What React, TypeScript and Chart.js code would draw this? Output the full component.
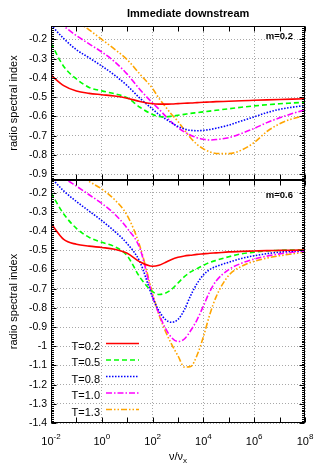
import React, { useEffect, useRef } from "react";
import { Chart, registerables } from "chart.js";

Chart.register(...registerables);

const FAMILY = "'Liberation Sans', Arial, Helvetica, sans-serif";
Chart.defaults.font.family = FAMILY;
Chart.defaults.color = "#000";

// ---------- data ----------
// log10(nu / nu_x)
const logNu = [-2, -1.5, -1, -0.5, 0, 0.5, 1, 1.5, 2, 2.25, 2.5, 2.75, 3, 3.25, 3.5, 3.75, 4, 4.25, 4.5, 5, 5.5, 6, 6.5, 7, 7.5, 8];

const seriesNames = ["T=0.2", "T=0.5", "T=0.8", "T=1.0", "T=1.3"];

// top panel, m=0.2
const topT02 = [-0.385, -0.44, -0.468, -0.48, -0.487, -0.494, -0.505, -0.522, -0.534, -0.536, -0.536, -0.535, -0.533, -0.531, -0.53, -0.528, -0.526, -0.525, -0.523, -0.521, -0.518, -0.516, -0.514, -0.512, -0.51, -0.508];
const topT05 = [-0.22, -0.34, -0.405, -0.449, -0.467, -0.482, -0.503, -0.552, -0.59, -0.6, -0.602, -0.599, -0.594, -0.589, -0.584, -0.58, -0.576, -0.572, -0.568, -0.56, -0.552, -0.545, -0.539, -0.534, -0.53, -0.526];
const topT08 = [-0.125, -0.195, -0.253, -0.295, -0.338, -0.385, -0.44, -0.505, -0.562, -0.59, -0.612, -0.633, -0.652, -0.665, -0.672, -0.674, -0.672, -0.668, -0.661, -0.645, -0.623, -0.602, -0.58, -0.563, -0.552, -0.543];
const topT10 = [-0.07, -0.13, -0.18, -0.223, -0.265, -0.315, -0.38, -0.46, -0.53, -0.562, -0.597, -0.63, -0.658, -0.68, -0.697, -0.71, -0.718, -0.722, -0.72, -0.71, -0.688, -0.662, -0.632, -0.607, -0.585, -0.566];
const topT13 = [0.0, -0.06, -0.105, -0.15, -0.2, -0.25, -0.305, -0.38, -0.455, -0.505, -0.548, -0.59, -0.626, -0.67, -0.712, -0.745, -0.768, -0.784, -0.792, -0.793, -0.775, -0.735, -0.678, -0.638, -0.612, -0.596];

// bottom panel, m=0.6
const botT02 = [-0.36, -0.443, -0.468, -0.478, -0.485, -0.494, -0.515, -0.56, -0.583, -0.578, -0.563, -0.547, -0.536, -0.529, -0.525, -0.521, -0.518, -0.515, -0.513, -0.508, -0.505, -0.503, -0.501, -0.5, -0.499, -0.498];
const botT05 = [-0.2, -0.31, -0.385, -0.432, -0.458, -0.48, -0.528, -0.64, -0.715, -0.73, -0.723, -0.703, -0.67, -0.637, -0.612, -0.595, -0.578, -0.563, -0.552, -0.533, -0.518, -0.509, -0.503, -0.5, -0.498, -0.497];
const botT08 = [-0.12, -0.19, -0.245, -0.295, -0.345, -0.4, -0.465, -0.56, -0.745, -0.815, -0.86, -0.875, -0.86, -0.81, -0.735, -0.673, -0.628, -0.6, -0.584, -0.562, -0.542, -0.528, -0.517, -0.509, -0.504, -0.5];
const botT10 = [-0.06, -0.12, -0.165, -0.21, -0.255, -0.31, -0.385, -0.49, -0.74, -0.83, -0.905, -0.955, -0.975, -0.962, -0.918, -0.862, -0.79, -0.715, -0.66, -0.6, -0.567, -0.545, -0.53, -0.518, -0.51, -0.504];
const botT13 = [0.05, -0.03, -0.09, -0.14, -0.18, -0.235, -0.318, -0.478, -0.725, -0.835, -0.92, -0.99, -1.05, -1.108, -1.105, -1.047, -0.95, -0.835, -0.742, -0.63, -0.583, -0.557, -0.54, -0.528, -0.518, -0.509];

// axes
const xTickExps = [-2, 0, 2, 4, 6, 8];
const yTicksTop = [-0.2, -0.3, -0.4, -0.5, -0.6, -0.7, -0.8, -0.9];
const yTicksBottom = [-0.2, -0.3, -0.4, -0.5, -0.6, -0.7, -0.8, -0.9, -1, -1.1, -1.2, -1.3, -1.4];
const topRange = { min: -0.93, max: -0.13 };
const bottomRange = { min: -1.4, max: -0.133 };

// ---------- styles ----------
const lineStyles = [
  { color: "#ff0000", dash: [] as number[] },
  { color: "#00ff00", dash: [5, 3] },
  { color: "#0000ff", dash: [1.5, 1.5] },
  { color: "#ff00ff", dash: [6, 2, 1.5, 2] },
  { color: "#ffa500", dash: [6, 2, 1.5, 2, 1.5, 2] },
];

function makeDatasets(series: number[][]) {
  return series.map((vals, i) => ({
    label: seriesNames[i],
    data: logNu.map((x, j) => ({ x, y: vals[j] })),
    borderColor: lineStyles[i].color,
    backgroundColor: lineStyles[i].color,
    borderDash: lineStyles[i].dash,
    borderWidth: 1.6,
    pointRadius: 0,
    fill: false,
    cubicInterpolationMode: "monotone" as const,
    clip: 0,
  }));
}

// frame + inward gnuplot-like tick marks
const framePlugin = {
  id: "frameTicks",
  afterDatasetsDraw(chart: any) {
    const { ctx, chartArea: ca, scales } = chart;
    const xs = scales.x;
    const ys = scales.y;
    const L = Math.round(ca.left) + 0.5;
    const R = Math.round(ca.right) - 0.5;
    const T = Math.round(ca.top) + 0.5;
    const B = Math.round(ca.bottom) - 0.5;
    ctx.save();
    ctx.setLineDash([]);
    ctx.strokeStyle = "#000";
    ctx.lineWidth = 1;
    ctx.strokeRect(L, T, R - L, B - T);
    ctx.beginPath();
    for (let e = Math.ceil(xs.min); e <= xs.max; e++) {
      const px = Math.round(xs.getPixelForValue(e)) + 0.5;
      ctx.moveTo(px, B);
      ctx.lineTo(px, B - 5);
      ctx.moveTo(px, T);
      ctx.lineTo(px, T + 5);
    }
    const k0 = Math.ceil(ys.min * 100 - 1e-6);
    const k1 = Math.floor(ys.max * 100 + 1e-6);
    for (let k = k0; k <= k1; k++) {
      const py = Math.round(ys.getPixelForValue(k / 100)) + 0.5;
      const len = k % 10 === 0 ? 5 : 2.5;
      ctx.moveTo(L, py);
      ctx.lineTo(L + len, py);
      ctx.moveTo(R, py);
      ctx.lineTo(R - len, py);
    }
    ctx.stroke();
    ctx.restore();
  },
};

function baseOptions(range: { min: number; max: number }, yTicks: number[], pad: any, xHeight: number) {
  return {
    responsive: false,
    maintainAspectRatio: false,
    animation: false as const,
    layout: { padding: pad },
    plugins: {
      legend: { display: false },
      title: { display: false },
      tooltip: { enabled: false },
    },
    events: [] as any[],
    scales: {
      x: {
        type: "linear" as const,
        min: -2,
        max: 8,
        afterBuildTicks: (s: any) => {
          s.ticks = xTickExps.map((v) => ({ value: v }));
        },
        afterFit: (s: any) => {
          s.height = xHeight;
          s.paddingLeft = 0;
          s.paddingRight = 0;
          s.paddingTop = 0;
          s.paddingBottom = 0;
        },
        ticks: { display: false },
        grid: { color: "#a8a8a8", lineWidth: 1, drawTicks: false },
        border: { display: false, dash: [1, 2] },
      },
      y: {
        type: "linear" as const,
        min: range.min,
        max: range.max,
        afterBuildTicks: (s: any) => {
          s.ticks = yTicks.map((v) => ({ value: v }));
        },
        afterFit: (s: any) => {
          s.width = 51;
          s.paddingTop = 0;
          s.paddingBottom = 0;
          s.paddingLeft = 0;
          s.paddingRight = 0;
        },
        ticks: {
          autoSkip: false,
          padding: 4,
          color: "#000",
          font: { size: 10.5, family: FAMILY },
          callback: (v: any) => String(v),
        },
        grid: { color: "#a8a8a8", lineWidth: 1, drawTicks: false },
        border: { display: false, dash: [1, 2] },
        title: {
          display: true,
          text: "radio spectral index",
          color: "#000",
          font: { size: 11, family: FAMILY },
          padding: { top: 7, bottom: 0 },
        },
      },
    },
  };
}

const topTextPlugin = {
  id: "topText",
  afterDraw(chart: any) {
    const { ctx, chartArea: ca } = chart;
    ctx.save();
    ctx.fillStyle = "#000";
    ctx.textBaseline = "middle";
    ctx.textAlign = "center";
    ctx.font = `bold 11px ${FAMILY}`;
    ctx.fillText("Immediate downstream", ca.left + (ca.right - ca.left) * 0.54, 14);
    ctx.textAlign = "right";
    ctx.font = `bold 9.5px ${FAMILY}`;
    ctx.fillText("m=0.2", ca.right - 12, ca.top + 10);
    ctx.restore();
  },
};

const bottomTextPlugin = {
  id: "bottomText",
  afterDraw(chart: any) {
    const { ctx, chartArea: ca, scales } = chart;
    const xs = scales.x;
    ctx.save();
    ctx.fillStyle = "#000";
    // panel label
    ctx.textBaseline = "middle";
    ctx.textAlign = "right";
    ctx.font = `bold 9.5px ${FAMILY}`;
    ctx.fillText("m=0.6", ca.right - 12, ca.top + 15);

    // x tick labels 10^n
    ctx.textAlign = "left";
    ctx.textBaseline = "alphabetic";
    xTickExps.forEach((e) => {
      const px = xs.getPixelForValue(e);
      ctx.font = `11px ${FAMILY}`;
      const w1 = ctx.measureText("10").width;
      ctx.font = `8px ${FAMILY}`;
      const expText = String(e);
      const w2 = ctx.measureText(expText).width;
      const start = px - (w1 + w2) / 2;
      ctx.font = `11px ${FAMILY}`;
      ctx.fillText("10", start, ca.bottom + 22);
      ctx.font = `8px ${FAMILY}`;
      ctx.fillText(expText, start + w1, ca.bottom + 15.5);
    });

    // x axis title nu/nu_x
    ctx.font = `11px ${FAMILY}`;
    const main = "ν/ν";
    const wm = ctx.measureText(main).width;
    ctx.font = `8px ${FAMILY}`;
    const ws = ctx.measureText("x").width;
    const cx = (ca.left + ca.right) / 2;
    const sx = cx - (wm + ws) / 2;
    ctx.font = `11px ${FAMILY}`;
    ctx.fillText(main, sx, ca.bottom + 37);
    ctx.font = `8px ${FAMILY}`;
    ctx.fillText("x", sx + wm, ca.bottom + 39.5);

    // legend
    const ds = chart.data.datasets;
    ds.forEach((d: any, i: number) => {
      const y = ca.top + 163.5 + i * 16.5;
      ctx.font = `11px ${FAMILY}`;
      ctx.textAlign = "right";
      ctx.textBaseline = "middle";
      ctx.fillStyle = "#000";
      ctx.fillText(d.label, ca.left + 49, y + 3);
      ctx.beginPath();
      ctx.strokeStyle = d.borderColor;
      ctx.lineWidth = 1.6;
      ctx.setLineDash(d.borderDash || []);
      ctx.moveTo(ca.left + 55, y);
      ctx.lineTo(ca.left + 88, y);
      ctx.stroke();
    });
    ctx.restore();
  },
};

export default function App() {
  const topRef = useRef<HTMLCanvasElement>(null);
  const botRef = useRef<HTMLCanvasElement>(null);

  useEffect(() => {
    const top = new Chart(topRef.current as HTMLCanvasElement, {
      type: "line",
      data: { datasets: makeDatasets([topT02, topT05, topT08, topT10, topT13]) as any },
      options: baseOptions(topRange, yTicksTop, { top: 26, right: 9, bottom: 1, left: 0 }, 0) as any,
      plugins: [framePlugin, topTextPlugin],
    });
    const bot = new Chart(botRef.current as HTMLCanvasElement, {
      type: "line",
      data: { datasets: makeDatasets([botT02, botT05, botT08, botT10, botT13]) as any },
      options: baseOptions(bottomRange, yTicksBottom, { top: 2, right: 9, bottom: 0, left: 0 }, 49) as any,
      plugins: [framePlugin, bottomTextPlugin],
    });
    return () => {
      top.destroy();
      bot.destroy();
    };
  }, []);

  return (
    <div style={{ position: "absolute", left: 0, top: 0, width: 314, height: 472, background: "#fff" }}>
      <canvas
        ref={topRef}
        width={314}
        height={181}
        style={{ position: "absolute", left: 0, top: 0, width: 314, height: 181 }}
      />
      <canvas
        ref={botRef}
        width={314}
        height={294}
        style={{ position: "absolute", left: 0, top: 178, width: 314, height: 294 }}
      />
    </div>
  );
}
